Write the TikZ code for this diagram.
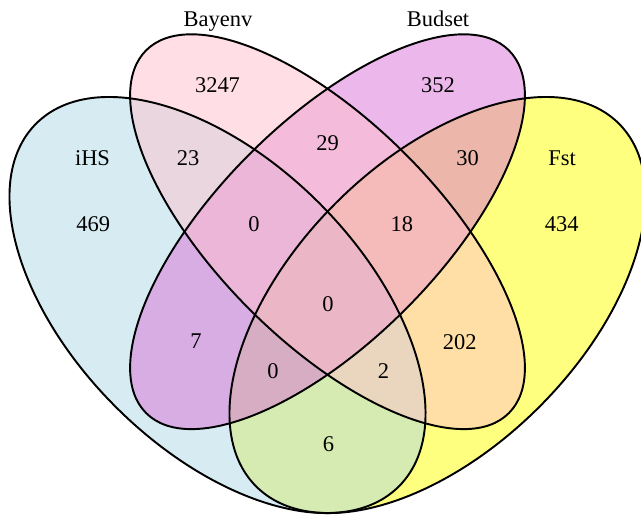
\documentclass[tikz,border=0pt]{standalone}
\usepackage{fontspec}
\setmainfont{Liberation Serif}
\usepackage{tikz}

\definecolor{ihsblue}{RGB}{173,216,230}
\definecolor{baypink}{RGB}{255,192,203}
\definecolor{budorchid}{RGB}{218,112,214}
\definecolor{fstyellow}{RGB}{255,255,0}

\begin{document}
\begin{tikzpicture}[x=0.02cm,y=-0.02cm,
	region/.style={fill opacity=0.5},
	rim/.style={draw=black,line width=1.1pt},
	count/.style={anchor=base,inner sep=0pt,font=\fontsize{12.8}{15}\selectfont}
	]
	\useasboundingbox (0,0) rectangle (641,515);

	% the four sets, filled first
	\fill [region,fstyellow] [rotate around={45:(437.5,305)}]	(437.5,305) ellipse (256.5 and 144);
	\fill [region,ihsblue] [rotate around={-45:(217.5,305)}]	(217.5,305) ellipse (256.5 and 144);
	\fill [region,budorchid] [rotate around={45:(327.5,231.7)}]	(327.5,231.7) ellipse (256.5 and 110);
	\fill [region,baypink] [rotate around={-45:(327.5,231.7)}]	(327.5,231.7) ellipse (256.5 and 110);

	% outlines on top
	\draw [rim] [rotate around={45:(437.5,305)}]	(437.5,305) ellipse (256.5 and 144);
	\draw [rim] [rotate around={-45:(217.5,305)}]	(217.5,305) ellipse (256.5 and 144);
	\draw [rim] [rotate around={-45:(327.5,231.7)}]	(327.5,231.7) ellipse (256.5 and 110);
	\draw [rim] [rotate around={45:(327.5,231.7)}]	(327.5,231.7) ellipse (256.5 and 110);

	% set names
	\node [count] (bayenv)		at (218,26.5)	{Bayenv};
	\node [count] (budset)		at (438,26.5)	{Budset};
	\node [count] (ihs)		at (92.5,165.7)	{iHS};
	\node [count] (fst)		at (562,165.7)	{Fst};

	% counts
	\node [count] (bayonly)		at (217.5,92.7)	{3247};
	\node [count] (budonly)		at (438,92.7)	{352};
	\node [count] (ihsonly)		at (93.3,231)	{469};
	\node [count] (fstonly)		at (561.8,231)	{434};
	\node [count] (ihsbay)		at (188,165.7)	{23};
	\node [count] (baybud)		at (327.7,150.7)	{29};
	\node [count] (budfst)		at (467.7,165.7)	{30};
	\node [count] (ihsbaybud)	at (254,231)	{0};
	\node [count] (baybudfst)	at (401.8,231)	{18};
	\node [count] (all)		at (328,311.7)	{0};
	\node [count] (ihsbud)		at (196,348.3)	{7};
	\node [count] (bayfst)		at (459.7,349)	{202};
	\node [count] (ihsbudfst)	at (273,378.3)	{0};
	\node [count] (ihsbayfst)	at (383.5,378.3)	{2};
	\node [count] (ihsfst)		at (328.5,451)	{6};

\end{tikzpicture}
\end{document}
